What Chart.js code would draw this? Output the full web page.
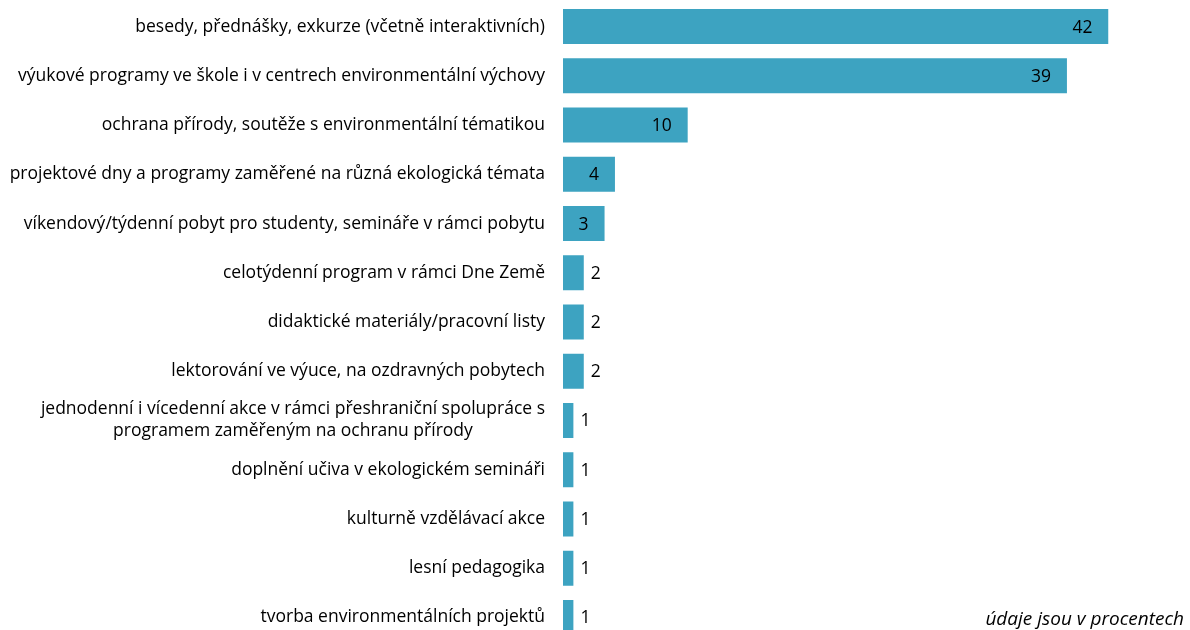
<!DOCTYPE html>
<html>
<head>
<meta charset="utf-8">
<script src="https://cdn.jsdelivr.net/npm/chart.js@4"></script>
<style>
  html, body { margin: 0; padding: 0; background: #fff; overflow: hidden; width: 1190px; height: 630px; }
  #wrap { position: relative; width: 1190px; height: 630px; }
  canvas { position: absolute; left: 0; top: 0; }
  #note { position: absolute; right: 6px; top: 605px; line-height: 26px; font: italic 19px "Open Sans", sans-serif; color: #000; white-space: nowrap; }
</style>
</head>
<body>
<div id="wrap">
  <canvas id="c" width="1190" height="644"></canvas>
  <div id="note">údaje jsou v procentech</div>
</div>
<script>
const categories = [
  ["besedy, přednášky, exkurze (včetně interaktivních)"],
  ["výukové programy ve škole i v centrech environmentální výchovy"],
  ["ochrana přírody, soutěže s environmentální tématikou"],
  ["projektové dny a programy zaměřené na různá ekologická témata"],
  ["víkendový/týdenní pobyt pro studenty, semináře v rámci pobytu"],
  ["celotýdenní program v rámci Dne Země"],
  ["didaktické materiály/pracovní listy"],
  ["lektorování ve výuce, na ozdravných pobytech"],
  ["jednodenní i vícedenní akce v rámci přeshraniční spolupráce s", "programem zaměřeným na ochranu přírody"],
  ["doplnění učiva v ekologickém semináři"],
  ["kulturně vzdělávací akce"],
  ["lesní pedagogika"],
  ["tvorba environmentálních projektů"]
];
const values = [42, 38.8, 9.6, 4, 3.2, 1.6, 1.6, 1.6, 0.8, 0.8, 0.8, 0.8, 0.8];
const xMax = 42;

const labelFont = '17.5px "Open Sans", sans-serif';

const yLabelsPlugin = {
  id: 'yLabels',
  afterDraw(chart) {
    const ctx = chart.ctx;
    const y = chart.scales.y;
    const xRight = chart.chartArea.left - 18;
    ctx.save();
    ctx.font = labelFont;
    ctx.fillStyle = '#000';
    ctx.textBaseline = 'middle';
    categories.forEach((lines, i) => {
      const cy = y.getPixelForValue(i);
      const lh = 22;
      const widths = lines.map(l => ctx.measureText(l).width);
      const maxW = Math.max(...widths);
      const center = xRight - maxW / 2;
      lines.forEach((l, j) => {
        const ly = cy + (j - (lines.length - 1) / 2) * lh;
        ctx.textAlign = 'center';
        ctx.fillText(l, center, ly);
      });
    });
    ctx.restore();
  }
};

const valueLabelsPlugin = {
  id: 'valueLabels',
  afterDatasetsDraw(chart) {
    const ctx = chart.ctx;
    const meta = chart.getDatasetMeta(0);
    ctx.save();
    ctx.font = labelFont;
    ctx.fillStyle = '#000';
    ctx.textBaseline = 'middle';
    meta.data.forEach((bar, i) => {
      const v = values[i];
      const txt = String(Math.round(v));
      if (v >= 3) {
        ctx.textAlign = 'right';
        ctx.fillText(txt, bar.x - 16, bar.y + 1);
      } else {
        ctx.textAlign = 'left';
        ctx.fillText(txt, bar.x + 7, bar.y + 1);
      }
    });
    ctx.restore();
  }
};

new Chart(document.getElementById('c'), {
  type: 'bar',
  data: {
    labels: categories,
    datasets: [{
      data: values,
      backgroundColor: '#3DA3C1',
      borderWidth: 0,
      categoryPercentage: 1,
      barPercentage: 0.711
    }]
  },
  options: {
    indexAxis: 'y',
    responsive: false,
    animation: false,
    devicePixelRatio: 1,
    layout: { padding: { left: 563, right: 81.5, top: 2, bottom: 2 } },
    plugins: { legend: { display: false }, tooltip: { enabled: false } },
    scales: {
      x: { display: false, min: 0, max: xMax },
      y: { display: false }
    }
  },
  plugins: [yLabelsPlugin, valueLabelsPlugin]
});
</script>
</body>
</html>
